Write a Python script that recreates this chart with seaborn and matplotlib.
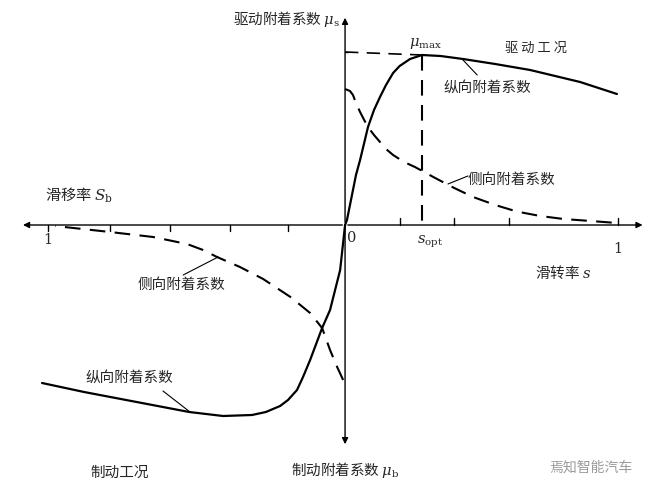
import numpy as np
import pandas as pd
import matplotlib
matplotlib.use("Agg")
import matplotlib.pyplot as plt
import seaborn as sns

sns.set_style("white")
plt.rcParams['font.family'] = ['Noto Sans CJK SC', 'DejaVu Sans']
plt.rcParams['mathtext.fontset'] = 'dejavuserif'

# 驱动侧（s > 0）纵向附着系数
s_drive_long = [0, 0.007, 0.029, 0.04, 0.055, 0.07, 0.084, 0.106, 0.128, 0.15, 0.176, 0.20, 0.238,
                0.282, 0.35, 0.432, 0.55, 0.678, 0.861, 0.996]
mu_drive_long = [0, 0.025, 0.175, 0.25, 0.325, 0.41, 0.49, 0.575, 0.64, 0.70, 0.76, 0.795, 0.83,
                 0.85, 0.845, 0.83, 0.805, 0.775, 0.715, 0.655]

# 驱动侧侧向附着系数
s_drive_lat = [0, 0.018, 0.029, 0.04, 0.055, 0.07, 0.084, 0.106, 0.128, 0.15, 0.176, 0.216, 0.256,
               0.33, 0.40, 0.469, 0.55, 0.63, 0.715, 0.80, 0.90, 0.996]
mu_drive_lat = [0.68, 0.67, 0.65, 0.61, 0.565, 0.525, 0.49, 0.45, 0.415, 0.38, 0.35, 0.315, 0.29,
                0.235, 0.185, 0.14, 0.10, 0.067, 0.045, 0.03, 0.02, 0.01]

# 制动侧（左侧为负）纵向附着系数
s_brake_long = [0, -0.018, -0.055, -0.084, -0.128, -0.154, -0.176, -0.209, -0.238, -0.29, -0.341,
                -0.447, -0.571, -0.802, -0.956, -1.11]
mu_brake_long = [0, -0.225, -0.425, -0.515, -0.675, -0.76, -0.825, -0.875, -0.905, -0.935, -0.95,
                 -0.955, -0.935, -0.875, -0.835, -0.79]

# 制动侧侧向附着系数
s_brake_lat = [-0.007, -0.029, -0.055, -0.084, -0.128, -0.20, -0.30, -0.385, -0.469, -0.52, -0.579,
               -0.703, -0.861, -1.062]
mu_brake_lat = [-0.775, -0.71, -0.625, -0.515, -0.44, -0.36, -0.27, -0.21, -0.16, -0.125, -0.095,
                -0.06, -0.035, -0.005]

s_opt = 0.282
mu_max = 0.85
right_ticks = [0.2, 0.4, 0.6, 1.0]
left_ticks = [-1.09, -0.861, -0.641, -0.421, -0.209]

fig = plt.figure(figsize=(6.59, 4.95), dpi=100)
ax = fig.add_axes([0, 0, 1, 1])
ax.set_xlim(-1.264, 1.150)
ax.set_ylim(-1.35, 1.125)
ax.axis('off')

solid = dict(color='black', linewidth=1.6)
dashed = dict(color='black', linewidth=1.5, dashes=(7.5, 4.5))

sns.lineplot(x=s_drive_long, y=mu_drive_long, sort=False, ax=ax, **solid)
sns.lineplot(x=s_brake_long, y=mu_brake_long, sort=False, ax=ax, **solid)
sns.lineplot(x=s_drive_lat, y=mu_drive_lat, sort=False, ax=ax, **dashed)
sns.lineplot(x=s_brake_lat, y=mu_brake_lat, sort=False, ax=ax, **dashed)

# μmax 与 s_opt 辅助线
ax.plot([0, s_opt], [mu_max + 0.015, mu_max], color='black', lw=1.2, dashes=(8, 5))
ax.plot([s_opt, s_opt], [mu_max, 0], color='black', lw=1.5, dashes=(7.5, 4.5))

# 坐标轴（带箭头）
arr = dict(arrowstyle='-|>', color='black', lw=1.0, mutation_scale=9)
ax.annotate('', xy=(1.10, 0), xytext=(0, 0), arrowprops=arr)
ax.annotate('', xy=(-1.19, 0), xytext=(0, 0), arrowprops=arr)
ax.annotate('', xy=(0, 1.05), xytext=(0, 0), arrowprops=arr)
ax.annotate('', xy=(0, -1.11), xytext=(0, 0), arrowprops=arr)

for t in right_ticks:
    ax.plot([t, t], [0, 0.035], color='black', lw=1.0)
for t in left_ticks:
    ax.plot([t, t], [0, -0.03], color='black', lw=1.0)
ax.plot([0, 0.012], [mu_max + 0.015, mu_max + 0.015], color='black', lw=1.0)

fs = 10.5
ax.text(-0.02, 1.03, '驱动附着系数 $\\mu_\\mathrm{s}$', ha='right', va='center', fontsize=fs)
ax.text(0.293, 0.905, '$\\mu_\\mathrm{max}$', ha='center', va='center', fontsize=fs)
ax.text(0.70, 0.885, '驱 动 工 况', ha='center', va='center', fontsize=9.5)
ax.text(0.52, 0.685, '纵向附着系数', ha='center', va='center', fontsize=fs)
ax.plot([0.432, 0.484], [0.825, 0.75], color='black', lw=0.8)
ax.text(0.61, 0.225, '侧向附着系数', ha='center', va='center', fontsize=fs)
ax.plot([0.377, 0.45], [0.205, 0.245], color='black', lw=0.8)

ax.text(-1.10, 0.15, '滑移率 $S_\\mathrm{b}$', ha='left', va='center', fontsize=11)
ax.text(-1.09, -0.075, '1', ha='center', va='center', fontsize=fs, family='DejaVu Serif')
ax.text(0.026, -0.065, '0', ha='center', va='center', fontsize=fs, family='DejaVu Serif')
ax.text(0.31, -0.085, '$s_\\mathrm{opt}$', ha='center', va='center', fontsize=fs)
ax.text(1.0, -0.12, '1', ha='center', va='center', fontsize=fs, family='DejaVu Serif')
ax.text(0.80, -0.235, '滑转率 $s$', ha='center', va='center', fontsize=fs)

ax.text(-0.60, -0.30, '侧向附着系数', ha='center', va='center', fontsize=fs)
ax.plot([-0.593, -0.465], [-0.25, -0.16], color='black', lw=0.8)
ax.text(-0.79, -0.765, '纵向附着系数', ha='center', va='center', fontsize=fs)
ax.plot([-0.667, -0.568], [-0.83, -0.935], color='black', lw=0.8)

ax.text(-0.824, -1.24, '制动工况', ha='center', va='center', fontsize=fs)
ax.text(0, -1.225, '制动附着系数 $\\mu_\\mathrm{b}$', ha='center', va='center', fontsize=fs)
ax.text(0.90, -1.215, '焉知智能汽车', ha='center', va='center', fontsize=10, color='#9a9a9a')

fig.savefig('out.png', dpi=100)
